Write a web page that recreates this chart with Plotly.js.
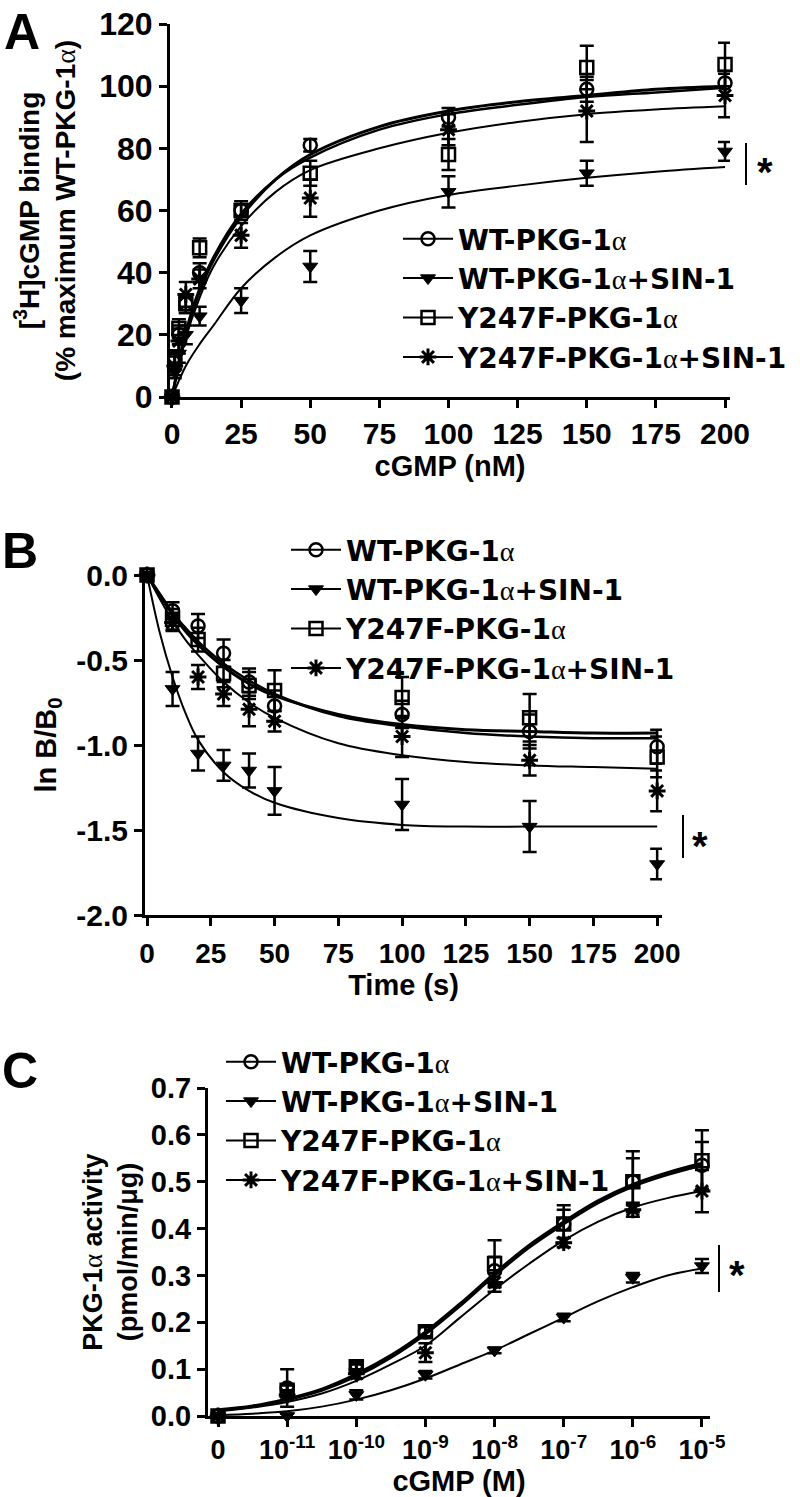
<!DOCTYPE html>
<html>
<head>
<meta charset="utf-8">
<script src="https://cdn.plot.ly/plotly-3.0.1.min.js"></script>
<style>
  body { margin: 0; background: #fff; }
  #plot { width: 800px; height: 1497px; }
</style>
</head>
<body>
<div id="plot"></div>
<script>
// figure size in px, used to turn pixel positions into paper fractions
const W = 800, H = 1497;
const px = v => v / W;
const py = v => 1 - v / H;

const ALPHA = "<span style='font-family:Liberation Serif;font-weight:normal'>α</span>";
const seriesNames = [
  "WT-PKG-1" + ALPHA,
  "WT-PKG-1" + ALPHA + "+SIN-1",
  "Y247F-PKG-1" + ALPHA,
  "Y247F-PKG-1" + ALPHA + "+SIN-1"
];

// ---- Panel A: [3H]cGMP binding vs cGMP (nM)
const concA = [0, 1, 2.5, 5, 10, 25, 50, 100, 150, 200];
const wtA = [0, 12, 20, 30, 40, 60, 81, 90, 99, 101];
const wtA_err = [1, 3, 3, 3, 3, 2, 2, 3, 4, 4];
const wtSinA = [0, 8, 14, 20, 26, 31, 42, 66, 72, 79];
const wtSinA_err = [1, 2, 3, 3, 3, 4, 5, 5, 4, 3];
const yfA = [0, 12, 22, 30, 48, 60, 72, 78, 106, 107];
const yfA_err = [1, 3, 3, 3, 3, 3, 4, 5, 7, 7];
const yfSinA = [0, 10, 18, 33, 38, 52, 64, 86, 92, 97];
const yfSinA_err = [1, 3, 4, 4, 3, 4, 6, 5, 10, 7];

// fitted curves
const fitXA = [0, 5, 10, 15, 25, 37.5, 50, 75, 100, 125, 150, 175, 200];
const fitWtA = [0, 20, 34, 44, 58, 70, 78, 87, 92, 95, 97, 99, 100];
const fitWtSinA = [0, 10, 17, 23, 35, 45, 52, 60, 65, 68, 70.5, 72.5, 74];
const fitYfA = [0, 21, 35, 45, 59, 70, 77, 86, 91, 94, 96.5, 98, 99.5];
const fitYfSinA = [0, 19, 32, 42, 55, 66, 73, 80, 85, 88.5, 91, 92.5, 93.5];

// ---- Panel B: ln B/B0 vs time (s)
const timeB = [0, 10, 20, 30, 40, 50, 100, 150, 200];
const wtB = [0, -0.21, -0.30, -0.46, -0.63, -0.77, -0.82, -0.92, -1.01];
const wtB_err = [0.01, 0.05, 0.07, 0.08, 0.08, 0.09, 0.08, 0.1, 0.1];
const wtSinB = [0, -0.67, -1.05, -1.12, -1.15, -1.27, -1.35, -1.48, -1.70];
const wtSinB_err = [0.01, 0.1, 0.1, 0.09, 0.1, 0.14, 0.15, 0.15, 0.09];
const yfB = [0, -0.26, -0.38, -0.58, -0.65, -0.68, -0.72, -0.84, -1.07];
const yfB_err = [0.01, 0.06, 0.07, 0.08, 0.08, 0.12, 0.12, 0.14, 0.12];
const yfSinB = [0, -0.28, -0.60, -0.70, -0.79, -0.86, -0.95, -1.09, -1.27];
const yfSinB_err = [0.01, 0.05, 0.07, 0.07, 0.1, 0.06, 0.12, 0.09, 0.12];

const fitXB = [0, 5, 10, 15, 20, 30, 40, 50, 75, 100, 125, 150, 175, 200];
const fitWtB = [0, -0.12, -0.23, -0.33, -0.41, -0.54, -0.64, -0.71, -0.82, -0.88, -0.91, -0.92, -0.93, -0.93];
const fitWtSinB = [0, -0.34, -0.60, -0.81, -0.97, -1.16, -1.27, -1.34, -1.43, -1.47, -1.48, -1.48, -1.48, -1.48];
const fitYfB = [0, -0.11, -0.22, -0.31, -0.39, -0.52, -0.62, -0.70, -0.83, -0.89, -0.93, -0.95, -0.96, -0.96];
const fitYfSinB = [0, -0.14, -0.27, -0.38, -0.47, -0.63, -0.75, -0.84, -0.99, -1.06, -1.10, -1.12, -1.13, -1.14];
const tickValsB = [0, -0.5, -1, -1.5, -2];
const tickTextB = ["0.0", "-0.5", "-1.0", "-1.5", "-2.0"];

// ---- Panel C: PKG-1a activity vs cGMP (M), log10 positions, "0" drawn at -12
const logC = [-12, -11, -10, -9, -8, -7, -6, -5];
const tickTextC = ["0", "10<sup>-11</sup>", "10<sup>-10</sup>", "10<sup>-9</sup>", "10<sup>-8</sup>",
                   "10<sup>-7</sup>", "10<sup>-6</sup>", "10<sup>-5</sup>"];
const wtC = [0, 0.06, 0.10, 0.18, 0.31, 0.41, 0.50, 0.535];
const wtC_err = [0.005, 0.04, 0.01, 0.01, 0.03, 0.03, 0.05, 0.05];
const wtSinC = [0, 0.0, 0.045, 0.088, 0.14, 0.21, 0.295, 0.32];
const wtSinC_err = [0.003, 0.005, 0.01, 0.008, 0.006, 0.008, 0.01, 0.015];
const yfC = [0, 0.055, 0.105, 0.18, 0.325, 0.41, 0.50, 0.545];
const yfC_err = [0.005, 0.01, 0.01, 0.01, 0.05, 0.04, 0.065, 0.065];
const yfSinC = [0, 0.045, 0.09, 0.135, 0.285, 0.37, 0.44, 0.48];
const yfSinC_err = [0.005, 0.01, 0.01, 0.02, 0.02, 0.01, 0.015, 0.045];

const fitXC = [-12, -11.5, -11, -10.5, -10, -9.5, -9, -8.5, -8, -7.5, -7, -6.5, -6, -5.5, -5];
const fitWtC = [0.012, 0.02, 0.035, 0.055, 0.085, 0.125, 0.175, 0.235, 0.30, 0.36, 0.41, 0.455, 0.49, 0.515, 0.535];
const fitWtSinC = [0.002, 0.005, 0.01, 0.02, 0.035, 0.055, 0.08, 0.11, 0.14, 0.175, 0.21, 0.245, 0.275, 0.30, 0.315];
const fitYfC = [0.014, 0.022, 0.037, 0.058, 0.09, 0.13, 0.18, 0.24, 0.305, 0.365, 0.415, 0.46, 0.495, 0.52, 0.54];
const fitYfSinC = [0.01, 0.018, 0.03, 0.048, 0.075, 0.11, 0.15, 0.21, 0.27, 0.325, 0.375, 0.415, 0.445, 0.465, 0.48];

// marker styles for the four groups
const markerStyles = [
  {symbol: "circle-open", size: 13, color: "black", line: {width: 2.5, color: "black"}},
  {symbol: "triangle-down", size: 13, color: "black", line: {width: 1, color: "black"}},
  {symbol: "square-open", size: 13, color: "black", line: {width: 2.5, color: "black"}},
  {symbol: "asterisk-open", size: 14, color: "black", line: {width: 3, color: "black"}}
];
const curveWidths = [3, 2, 2.5, 2];

// points are separated by gaps so only the legend shows the "-o-" line
function gapped(arr) {
  return arr.flatMap((v, i) => (i ? [null, v] : [v]));
}

function pointsTrace(x, y, err, k, suffix, legendId) {
  return {
    x: gapped(x), y: gapped(y),
    type: "scatter", mode: "lines+markers",
    name: seriesNames[k],
    legend: legendId,
    xaxis: "x" + suffix, yaxis: "y" + suffix,
    marker: markerStyles[k],
    line: {color: "black", width: 2},
    connectgaps: false,
    cliponaxis: false,
    error_y: {type: "data", array: gapped(err), visible: true, color: "black", thickness: 2.5, width: 7},
    hoverinfo: "x+y"
  };
}

function curveTrace(x, y, k, suffix) {
  return {
    x: x, y: y, type: "scatter", mode: "lines",
    xaxis: "x" + suffix, yaxis: "y" + suffix,
    line: {color: "black", width: curveWidths[k], shape: "spline", smoothing: 1},
    showlegend: false, hoverinfo: "skip", cliponaxis: false
  };
}

const traceData = [
  curveTrace(fitXA, fitWtA, 0, ""), curveTrace(fitXA, fitWtSinA, 1, ""),
  curveTrace(fitXA, fitYfA, 2, ""), curveTrace(fitXA, fitYfSinA, 3, ""),
  pointsTrace(concA, wtA, wtA_err, 0, "", "legend"),
  pointsTrace(concA, wtSinA, wtSinA_err, 1, "", "legend"),
  pointsTrace(concA, yfA, yfA_err, 2, "", "legend"),
  pointsTrace(concA, yfSinA, yfSinA_err, 3, "", "legend"),

  curveTrace(fitXB, fitWtB, 0, "2"), curveTrace(fitXB, fitWtSinB, 1, "2"),
  curveTrace(fitXB, fitYfB, 2, "2"), curveTrace(fitXB, fitYfSinB, 3, "2"),
  pointsTrace(timeB, wtB, wtB_err, 0, "2", "legend2"),
  pointsTrace(timeB, wtSinB, wtSinB_err, 1, "2", "legend2"),
  pointsTrace(timeB, yfB, yfB_err, 2, "2", "legend2"),
  pointsTrace(timeB, yfSinB, yfSinB_err, 3, "2", "legend2"),

  curveTrace(fitXC, fitWtC, 0, "3"), curveTrace(fitXC, fitWtSinC, 1, "3"),
  curveTrace(fitXC, fitYfC, 2, "3"), curveTrace(fitXC, fitYfSinC, 3, "3"),
  pointsTrace(logC, wtC, wtC_err, 0, "3", "legend3"),
  pointsTrace(logC, wtSinC, wtSinC_err, 1, "3", "legend3"),
  pointsTrace(logC, yfC, yfC_err, 2, "3", "legend3"),
  pointsTrace(logC, yfSinC, yfSinC_err, 3, "3", "legend3")
];

const axisBase = {
  showline: true, linewidth: 3, linecolor: "black",
  ticks: "outside", ticklen: 8, tickwidth: 3, tickcolor: "black",
  showgrid: false, zeroline: false, fixedrange: true,
  tickfont: {size: 30, color: "black", weight: "bold"}
};
const titleFont = {size: 29, color: "black", weight: "bold"};

const legendBase = {
  xanchor: "left", yanchor: "top",
  bgcolor: "rgba(0,0,0,0)", borderwidth: 0,
  itemwidth: 50, tracegroupgap: 0,
  font: {family: "DejaVu Sans, Liberation Sans, Arial", size: 28, color: "black", weight: "bold"}
};

const letterFont = {size: 50, color: "black", weight: "bold"};
const starFont = {size: 40, color: "black", weight: "bold"};

const layout = {
  width: W, height: H,
  margin: {l: 0, r: 0, t: 0, b: 0},
  paper_bgcolor: "white", plot_bgcolor: "white",
  font: {family: "Liberation Sans, Arial, sans-serif", color: "black", weight: "bold"},
  showlegend: true,

  xaxis: Object.assign({}, axisBase, {
    anchor: "y", domain: [px(170), px(730)], range: [-0.72, 201.8],
    tick0: 0, dtick: 25,
    title: {text: "cGMP (nM)", font: titleFont, standoff: 2}
  }),
  yaxis: Object.assign({}, axisBase, {
    anchor: "x", domain: [py(397), py(24)], range: [0, 120], dtick: 20,
    tickfont: {size: 32, color: "black", weight: "bold"},
    title: {text: "[<sup>3</sup>H]cGMP binding<br>(% maximum WT-PKG-1" + ALPHA + ")", font: {size: 28, color: "black", weight: "bold"}, standoff: 16}
  }),

  xaxis2: Object.assign({}, axisBase, {
    anchor: "y2", domain: [px(145), px(662)], range: [-0.8, 201.9],
    tick0: 0, dtick: 25, tickfont: {size: 28, color: "black", weight: "bold"},
    ticklabelstandoff: 3,
    title: {text: "Time (s)", font: titleFont, standoff: 0}
  }),
  yaxis2: Object.assign({}, axisBase, {
    anchor: "x2", domain: [py(915), py(575)], range: [-2, 0],
    tickvals: tickValsB, ticktext: tickTextB,
    title: {text: "ln B/B<sub>0</sub>", font: titleFont, standoff: 12}
  }),

  xaxis3: Object.assign({}, axisBase, {
    anchor: "y3", domain: [px(208), px(710)], range: [-12.145, -4.884],
    tickvals: logC, ticktext: tickTextC,
    tickfont: {size: 27, color: "black", weight: "bold"},
    title: {text: "cGMP (M)", font: titleFont, standoff: 4}
  }),
  yaxis3: Object.assign({}, axisBase, {
    anchor: "x3", domain: [py(1416), py(1088)], range: [0, 0.7], dtick: 0.1,
    tickformat: ".1f", tickfont: {size: 29, color: "black", weight: "bold"},
    title: {text: "PKG-1" + ALPHA + " activity<br>(pmol/min/μg)", font: {size: 27, color: "black", weight: "bold"}, standoff: 6}
  }),

  legend: Object.assign({}, legendBase, {x: px(398), y: py(214)}),
  legend2: Object.assign({}, legendBase, {x: px(286), y: py(525)}),
  legend3: Object.assign({}, legendBase, {x: px(221), y: py(1037)}),

  annotations: [
    {text: "A", x: px(2), y: py(2), xref: "paper", yref: "paper", xanchor: "left", yanchor: "top", showarrow: false, font: letterFont},
    {text: "B", x: px(0), y: py(521), xref: "paper", yref: "paper", xanchor: "left", yanchor: "top", showarrow: false, font: letterFont},
    {text: "C", x: px(0), y: py(1041), xref: "paper", yref: "paper", xanchor: "left", yanchor: "top", showarrow: false, font: letterFont},
    {text: "*", x: px(755), y: py(148), xref: "paper", yref: "paper", xanchor: "left", yanchor: "top", showarrow: false, font: starFont},
    {text: "*", x: px(690), y: py(822), xref: "paper", yref: "paper", xanchor: "left", yanchor: "top", showarrow: false, font: starFont},
    {text: "*", x: px(727), y: py(1251), xref: "paper", yref: "paper", xanchor: "left", yanchor: "top", showarrow: false, font: starFont}
  ],
  shapes: [
    {type: "line", xref: "paper", yref: "paper", x0: px(746), x1: px(746), y0: py(143), y1: py(185), line: {color: "black", width: 2}},
    {type: "line", xref: "paper", yref: "paper", x0: px(683), x1: px(683), y0: py(815), y1: py(858), line: {color: "black", width: 2}},
    {type: "line", xref: "paper", yref: "paper", x0: px(719), x1: px(719), y0: py(1245), y1: py(1292), line: {color: "black", width: 2}}
  ]
};

Plotly.newPlot("plot", traceData, layout, {staticPlot: true});
</script>
</body>
</html>
